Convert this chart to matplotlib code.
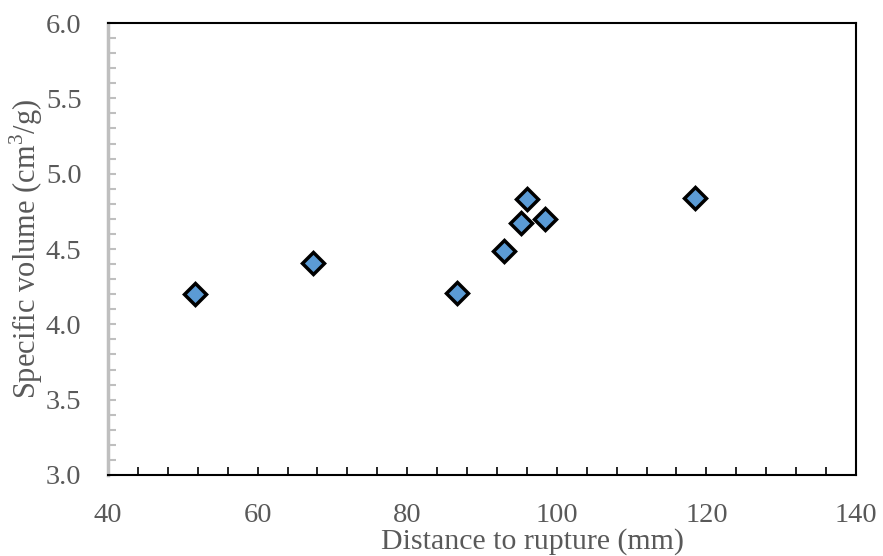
import numpy as np
import matplotlib
matplotlib.use("Agg")
import matplotlib.pyplot as plt
from matplotlib.ticker import MultipleLocator

# values
distance_mm = [51.6, 67.4, 86.6, 92.9, 95.2, 96.0, 98.4, 118.5]
specific_volume = [4.20, 4.41, 4.21, 4.49, 4.67, 4.83, 4.70, 4.84]

x_ticks = [40, 60, 80, 100, 120, 140]
y_ticks = [3.0, 3.5, 4.0, 4.5, 5.0, 5.5, 6.0]

TEXT_GREY = "#595959"

plt.rcParams["font.family"] = ["Liberation Serif", "DejaVu Serif"]
plt.rcParams["mathtext.fontset"] = "custom"
plt.rcParams["mathtext.rm"] = "Liberation Serif"

fig = plt.figure(figsize=(8.83, 5.56), dpi=100)
ax = fig.add_axes([0.1223, 0.1457, 0.8471, 0.8129])

ax.plot(distance_mm, specific_volume, linestyle="none", marker="D",
        markersize=11.5, markerfacecolor="#5B9BD5", markeredgecolor="black",
        markeredgewidth=2.5, zorder=3)

ax.set_xlim(40, 140)
ax.set_ylim(3.0, 6.0)
ax.set_xticks(x_ticks)
ax.set_yticks(y_ticks)
ax.set_xticklabels([str(v) for v in x_ticks])
ax.set_yticklabels([f"{v:.1f}" for v in y_ticks])

# tick marks: small inward ticks, x every 4 mm, y every 0.1
ax.xaxis.set_minor_locator(MultipleLocator(4))
ax.yaxis.set_minor_locator(MultipleLocator(0.1))
ax.tick_params(axis="x", which="both", direction="in", length=6, width=1.2,
               color="black", labelsize=20.5, labelcolor=TEXT_GREY, pad=20)
ax.tick_params(axis="y", which="both", direction="in", length=6, width=1.5,
               color="#BFBFBF", labelsize=20.5, labelcolor=TEXT_GREY, pad=19)

for side in ["top", "right", "bottom"]:
    ax.spines[side].set_color("black")
    ax.spines[side].set_linewidth(1.5)
ax.spines["left"].set_color("#BFBFBF")
ax.spines["left"].set_linewidth(2.5)

ax.set_xlabel("Distance to rupture (mm)", fontsize=21.5, color=TEXT_GREY, labelpad=0)
ax.xaxis.label.set_x(0.568)  # label sits right of centre in the original
ax.set_ylabel("Specific volume (cm$^3$/g)", fontsize=22, color=TEXT_GREY, labelpad=1)

fig.savefig("out.png", dpi=100)
